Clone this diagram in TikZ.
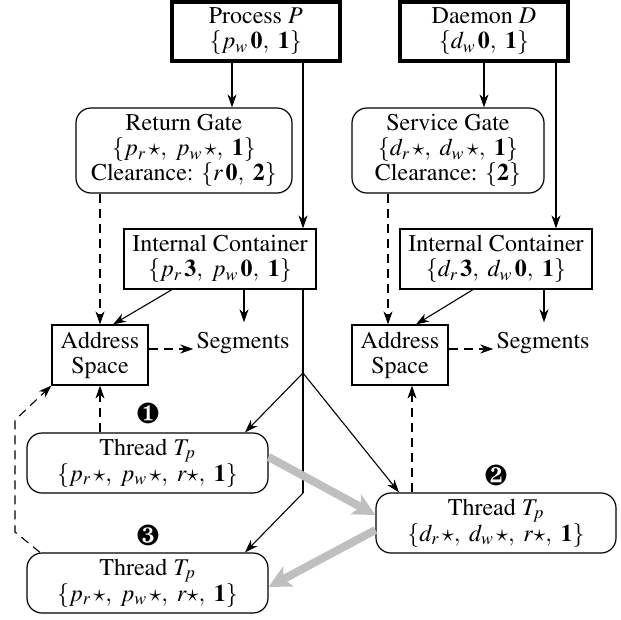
\documentclass[tikz,border=0pt]{standalone}
\usepackage[T1]{fontenc}
\usepackage{mathptmx}
\usepackage{pifont}
\usetikzlibrary{arrows.meta}
\begin{document}
\begin{tikzpicture}[x=1pt,y=-1pt,
  every node/.style={font=\fontsize{24}{25}\selectfont, inner sep=0pt, align=center},
  plainbox/.style={draw, line width=1.2pt, minimum height=60pt},
  thickbox/.style={draw, line width=4pt, minimum width=168pt, minimum height=58.5pt},
  roundbox/.style={draw, line width=1.2pt, rounded corners=15pt},
  conn/.style={line width=1.1pt},
  arr/.style={conn, -{Stealth[length=13pt,width=9pt,inset=4pt]}},
  dasharr/.style={arr, dash pattern=on 9pt off 6pt},
  greyarr/.style={line width=8pt, draw=black!25, -{Stealth[length=22pt,width=22pt,inset=5pt]}},
  numlabel/.style={font=\fontsize{29}{29}\selectfont}
]
\useasboundingbox (0,0) rectangle (621,619);

\node[thickbox, minimum width=167.5pt] (P) at (255.75,31.25) {Process $P$\\$\{p_w\,\mathbf{0},\ \mathbf{1}\}$};
\node[thickbox] (D) at (484,31.25) {Daemon $D$\\$\{d_w\,\mathbf{0},\ \mathbf{1}\}$};
\node[roundbox, minimum width=216pt, minimum height=85pt] (rg) at (184,150.5) {Return Gate\\$\{p_r\,{\star},\ p_w\,{\star},\ \mathbf{1}\}$\\Clearance: $\{r\,\mathbf{0},\ \mathbf{2}\}$};
\node[roundbox, minimum width=192pt, minimum height=85pt] (sg) at (448,150.5) {Service Gate\\$\{d_r\,{\star},\ d_w\,{\star},\ \mathbf{1}\}$\\Clearance: $\{\mathbf{2}\}$};
\node[plainbox, minimum width=192pt] (icp) at (220,259) {Internal Container\\$\{p_r\,\mathbf{3},\ p_w\,\mathbf{0},\ \mathbf{1}\}$};
\node[plainbox, minimum width=192pt] (icd) at (496,259) {Internal Container\\$\{d_r\,\mathbf{3},\ d_w\,\mathbf{0},\ \mathbf{1}\}$};
\node[plainbox, minimum width=96pt] (asp) at (100,355) {Address\\Space};
\node[plainbox, minimum width=96pt] (asd) at (400,355) {Address\\Space};
\node[inner xsep=3pt, inner ysep=9.5pt] (segp) at (243,342.75) {Segments};
\node[inner xsep=3pt, inner ysep=9.5pt] (segd) at (543,342.75) {Segments};
\node[roundbox, minimum width=241pt, minimum height=60pt] (t1) at (147.5,463) {Thread $T_p$\\$\{p_r\,{\star},\ p_w\,{\star},\ r{\star},\ \mathbf{1}\}$};
\node[roundbox, minimum width=240pt, minimum height=60pt] (t2) at (496,523) {Thread $T_p$\\$\{d_r\,{\star},\ d_w\,{\star},\ r{\star},\ \mathbf{1}\}$};
\node[roundbox, minimum width=241pt, minimum height=60pt] (t3) at (147.5,583) {Thread $T_p$\\$\{p_r\,{\star},\ p_w\,{\star},\ r{\star},\ \mathbf{1}\}$};

\node[numlabel] (n1) at (148,413) {\ding{182}};
\node[numlabel] (n2) at (496,475) {\ding{183}};
\node[numlabel] (n3) at (148,535) {\ding{184}};

\coordinate (j) at (303,373);
\coordinate (k) at (303,493);
\coordinate (l1) at (15,532);
\coordinate (l2) at (15,420);

\draw[arr] ([xshift=-23.75pt]P.south) -- ([xshift=48pt]rg.north);
\draw[arr] ([xshift=47.25pt]P.south) -- ([xshift=83pt]icp.north);
\draw[arr] (D.south) -- ([xshift=36pt]sg.north);
\draw[arr] ([xshift=72pt]D.south) -- ([xshift=60pt]icd.north);
\draw[dasharr] ([xshift=-84pt]rg.south) -- (asp.north);
\draw[dasharr] ([xshift=-60pt]sg.south) -- ([xshift=-12pt]asd.north);
\draw[arr] ([xshift=-48pt]icp.south) -- ([xshift=13pt]asp.north);
\draw[arr] ([xshift=-23pt]icd.south) -- ([xshift=16pt]asd.north);
\draw[arr] ([xshift=24pt]icp.south) -- ([xshift=1pt]segp.north);
\draw[arr] ([xshift=48pt]icd.south) -- ([xshift=1pt]segd.north);
\draw[dasharr] ([yshift=6pt]asp.east) -- ([yshift=-6.25pt]segp.west);
\draw[dasharr] ([yshift=6pt]asd.east) -- ([yshift=-6.25pt]segd.west);

\draw[conn] ([xshift=83pt]icp.south) -- (j) -- (k);
\draw[arr] (j) -- ([xshift=97.5pt]t1.north);
\draw[arr] (k) -- ([xshift=97.5pt]t3.north);
\draw[arr] (j) -- ([xshift=-97pt]t2.north);

\draw[dasharr] ([xshift=-47.5pt]t1.north) -- (asp.south);
\draw[dasharr] ([xshift=-84pt]t2.north) -- ([xshift=12pt]asd.south);
\draw[dasharr] ([xshift=-107.5pt]t3.north) -- (l1) -- (l2) -- (asp.south west);

\draw[greyarr] ([yshift=6pt]t1.east) -- ([yshift=8pt]t2.west);
\draw[greyarr] ([yshift=-7pt]t2.west) -- ([yshift=-4pt]t3.east);
\end{tikzpicture}
\end{document}
